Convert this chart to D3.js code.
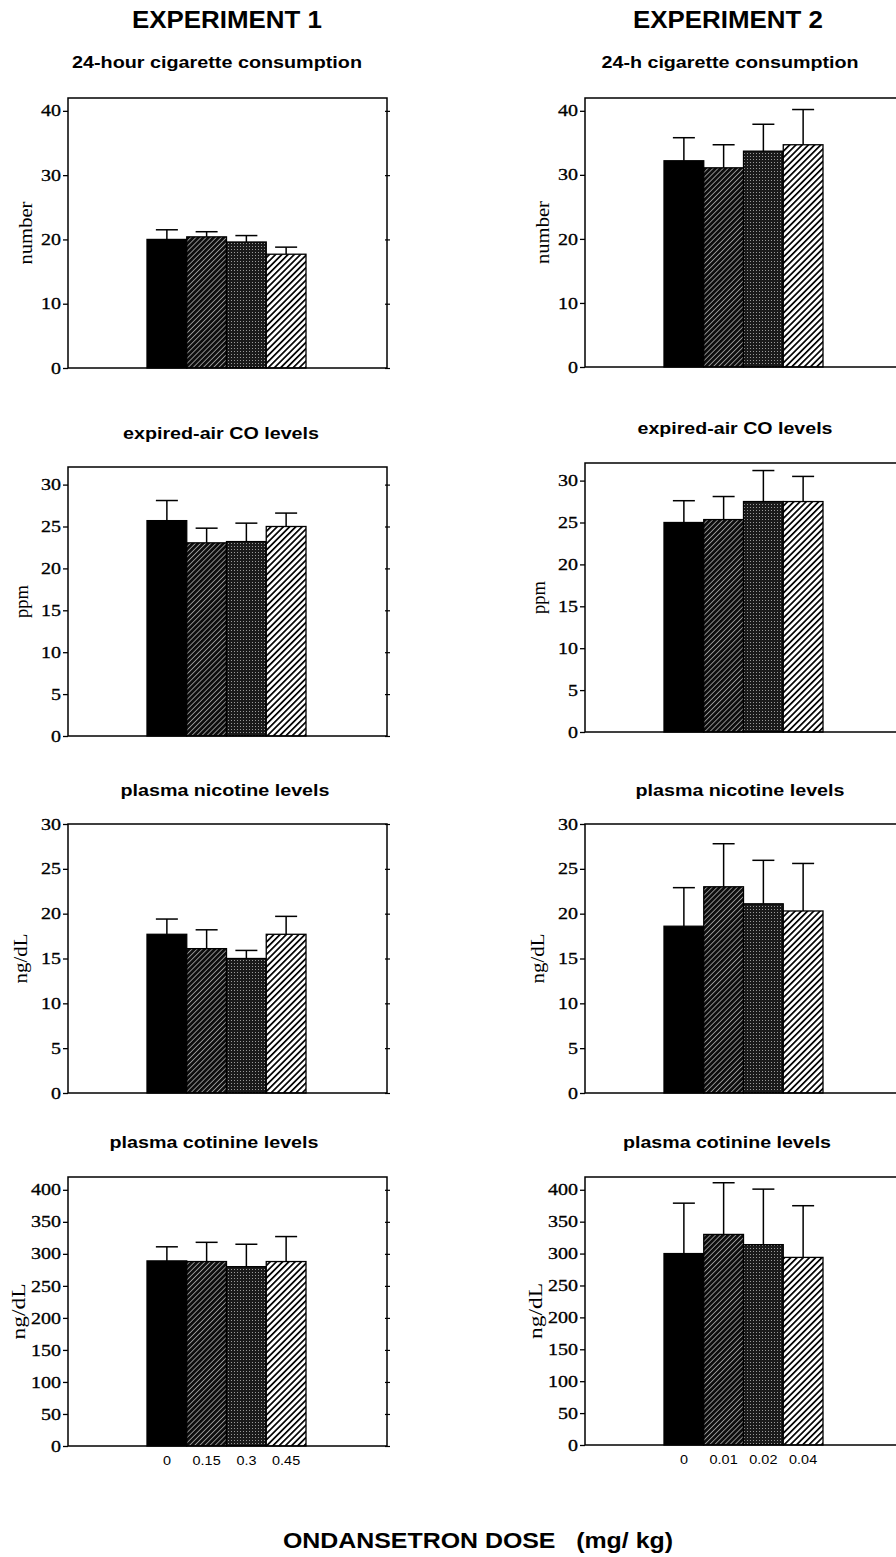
<!DOCTYPE html>
<html lang="en">
<head>
<meta charset="UTF-8">
<title>Ondansetron dose</title>
<script src="https://d3js.org/d3.v7.min.js"></script>
<style>
    body { margin: 0; background: #fff; }
    svg { display: block; }
    .serif { font-family: "Liberation Serif", "Times New Roman", serif; }
    .sans { font-family: "Liberation Sans", Arial, sans-serif; font-weight: bold; }
</style>
</head>
<body>
<svg id="chart" width="896" height="1557"></svg>
<script>
// doses (x categories)
const doses1 = ["0", "0.15", "0.3", "0.45"];
const doses2 = ["0", "0.01", "0.02", "0.04"];

// panel titles
const titles1 = ["24-hour cigarette consumption", "expired-air CO levels", "plasma nicotine levels", "plasma cotinine levels"];
const titles2 = ["24-h cigarette consumption", "expired-air CO levels", "plasma nicotine levels", "plasma cotinine levels"];
const yLabels = ["number", "ppm", "ng/dL", "ng/dL"];

// y ticks and y axis tops
const yTicks = [
    [0, 10, 20, 30, 40],
    [0, 5, 10, 15, 20, 25, 30],
    [0, 5, 10, 15, 20, 25, 30],
    [0, 50, 100, 150, 200, 250, 300, 350, 400]
];
const yTops = [42, 32.1, 30, 420];

// experiment 1: means and SEM
const exp1Cig = [20.0, 20.4, 19.6, 17.7];
const exp1CigErr = [1.5, 0.8, 1.0, 1.1];
const exp1CO = [25.7, 23.05, 23.2, 25.0];
const exp1COErr = [2.4, 1.75, 2.2, 1.6];
const exp1Nic = [17.7, 16.1, 15.0, 17.7];
const exp1NicErr = [1.7, 2.1, 0.9, 2.0];
const exp1Cot = [289, 288, 280, 288];
const exp1CotErr = [22, 30, 35, 39];

// experiment 2: means and SEM
const exp2Cig = [32.2, 31.1, 33.7, 34.7];
const exp2CigErr = [3.6, 3.6, 4.2, 5.5];
const exp2CO = [25.0, 25.35, 27.5, 27.5];
const exp2COErr = [2.6, 2.75, 3.7, 3.0];
const exp2Nic = [18.6, 23.0, 21.1, 20.3];
const exp2NicErr = [4.3, 4.8, 4.85, 5.3];
const exp2Cot = [300, 330, 314, 294];
const exp2CotErr = [79, 81, 87, 81];

const svg = d3.select("#chart");

// fill patterns for the 4 doses
const defs = svg.append("defs");
const hatchDark = defs.append("pattern").attr("id", "hatchDark")
    .attr("patternUnits", "userSpaceOnUse").attr("width", 3.6).attr("height", 3.6)
    .attr("patternTransform", "rotate(45)");
hatchDark.append("rect").attr("width", 3.6).attr("height", 3.6).attr("fill", "#0d0d0d");
hatchDark.append("rect").attr("x", 0).attr("width", 0.8).attr("height", 3.6).attr("fill", "#aaa");

const stipple = defs.append("pattern").attr("id", "stipple")
    .attr("patternUnits", "userSpaceOnUse").attr("width", 3).attr("height", 3);
stipple.append("rect").attr("width", 3).attr("height", 3).attr("fill", "#1a1a1a");
stipple.append("rect").attr("x", 0).attr("y", 0).attr("width", 1).attr("height", 1).attr("fill", "#999");

const hatchLight = defs.append("pattern").attr("id", "hatchLight")
    .attr("patternUnits", "userSpaceOnUse").attr("width", 4.4).attr("height", 4.4)
    .attr("patternTransform", "rotate(45)");
hatchLight.append("rect").attr("width", 4.4).attr("height", 4.4).attr("fill", "#fff");
hatchLight.append("rect").attr("width", 1.7).attr("height", 4.4).attr("fill", "#000");

const fills = ["#000", "url(#hatchDark)", "url(#stipple)", "url(#hatchLight)"];

// y label placement per row: distance left of the frame, text length
const labelOffset = [36, 40, 41, 43];
const labelLength = [63, 33, 50, 56];

// panel frames and title placement
const frameWidth = 319;
const columns = [
    {
        left: 68, doses: doses1, titles: titles1,
        means: [exp1Cig, exp1CO, exp1Nic, exp1Cot],
        errs: [exp1CigErr, exp1COErr, exp1NicErr, exp1CotErr],
        head: "EXPERIMENT 1", headX: 227,
        rows: [
            { top: 98, bottom: 368, tx: 217, ty: 68, tw: 290 },
            { top: 467, bottom: 736, tx: 221, ty: 439, tw: 196 },
            { top: 824, bottom: 1093, tx: 225, ty: 796, tw: 209 },
            { top: 1177, bottom: 1446, tx: 214, ty: 1148, tw: 209 }
        ]
    },
    {
        left: 585, doses: doses2, titles: titles2,
        means: [exp2Cig, exp2CO, exp2Nic, exp2Cot],
        errs: [exp2CigErr, exp2COErr, exp2NicErr, exp2CotErr],
        head: "EXPERIMENT 2", headX: 728,
        rows: [
            { top: 98, bottom: 367, tx: 730, ty: 68, tw: 257 },
            { top: 463, bottom: 732, tx: 735, ty: 434, tw: 195 },
            { top: 824, bottom: 1093, tx: 740, ty: 796, tw: 209 },
            { top: 1177, bottom: 1445, tx: 727, ty: 1148, tw: 208 }
        ]
    }
];

// widen a text to match the wide type of the original
function stretch(sel, k) {
    sel.each(function () {
        const w = this.getComputedTextLength();
        d3.select(this).attr("textLength", w * k).attr("lengthAdjust", "spacingAndGlyphs");
    });
}

columns.forEach(col => {
    svg.append("text")
        .attr("class", "sans")
        .attr("x", col.headX).attr("y", 28)
        .attr("text-anchor", "middle")
        .style("font-size", "24px")
        .attr("textLength", 190).attr("lengthAdjust", "spacingAndGlyphs")
        .text(col.head);

    col.rows.forEach((r, ri) => {
        const g = svg.append("g");
        const right = col.left + frameWidth;

        const x = d3.scaleBand()
            .domain(col.doses)
            .range([col.left + 79, col.left + 238])
            .paddingInner(0);

        const y = d3.scaleLinear()
            .domain([0, yTops[ri]])
            .range([r.bottom, r.top]);

        const rows = col.doses.map((d, i) => ({ dose: d, mean: col.means[ri][i], err: col.errs[ri][i], i: i }));

        // subtitle
        g.append("text")
            .attr("class", "sans")
            .attr("x", r.tx).attr("y", r.ty)
            .attr("text-anchor", "middle")
            .style("font-size", "16px")
            .attr("textLength", r.tw).attr("lengthAdjust", "spacingAndGlyphs")
            .text(col.titles[ri]);

        // error bars (drawn first, bars cover the lower half)
        const eb = g.append("g").attr("stroke", "#000").attr("stroke-width", 1.5);
        eb.selectAll(".stem")
            .data(rows)
            .enter().append("line")
            .attr("x1", d => x(d.dose) + x.bandwidth() / 2)
            .attr("x2", d => x(d.dose) + x.bandwidth() / 2)
            .attr("y1", d => y(d.mean))
            .attr("y2", d => y(d.mean + d.err));
        eb.selectAll(".cap")
            .data(rows)
            .enter().append("line")
            .attr("x1", d => x(d.dose) + x.bandwidth() / 2 - 11)
            .attr("x2", d => x(d.dose) + x.bandwidth() / 2 + 11)
            .attr("y1", d => y(d.mean + d.err))
            .attr("y2", d => y(d.mean + d.err));

        // bars
        g.selectAll(".bar")
            .data(rows)
            .enter().append("rect")
            .attr("x", d => x(d.dose))
            .attr("y", d => y(d.mean))
            .attr("width", x.bandwidth())
            .attr("height", d => y(0) - y(d.mean))
            .attr("fill", d => fills[d.i])
            .attr("stroke", "#000")
            .attr("stroke-width", 1.3);

        // frame
        g.append("rect")
            .attr("x", col.left).attr("y", r.top)
            .attr("width", frameWidth).attr("height", r.bottom - r.top)
            .attr("fill", "none")
            .attr("stroke", "#000")
            .attr("stroke-width", 1.5);

        // left axis
        const yAxis = g.append("g")
            .attr("transform", "translate(" + col.left + ",0)")
            .call(d3.axisLeft(y).tickValues(yTicks[ri]).tickSize(5).tickSizeOuter(0).tickPadding(2));
        yAxis.select(".domain").remove();
        yAxis.selectAll("line").attr("stroke-width", 1.3);
        yAxis.selectAll("text")
            .attr("class", "serif")
            .attr("fill", "#000")
            .attr("stroke", "#000")
            .attr("stroke-width", 0.3)
            .style("font-size", "16px");
        stretch(yAxis.selectAll("text"), 1.25);

        // right ticks
        const yRight = g.append("g")
            .attr("transform", "translate(" + (right - 2) + ",0)")
            .call(d3.axisRight(y).tickValues(yTicks[ri]).tickSize(5).tickSizeOuter(0).tickFormat(""));
        yRight.select(".domain").remove();
        yRight.selectAll("line").attr("stroke-width", 1.2);

        // y label
        const ly = (r.top + r.bottom) / 2;
        const lx = col.left - labelOffset[ri];
        g.append("text")
            .attr("class", "serif")
            .attr("x", lx).attr("y", ly)
            .attr("transform", "rotate(-90," + lx + "," + ly + ")")
            .attr("text-anchor", "middle")
            .style("font-size", "19px")
            .attr("textLength", labelLength[ri]).attr("lengthAdjust", "spacingAndGlyphs")
            .text(yLabels[ri]);

        // dose labels under the last row
        if (ri === col.rows.length - 1) {
            const xAxis = g.append("g")
                .attr("transform", "translate(0," + r.bottom + ")")
                .call(d3.axisBottom(x).tickSize(0).tickPadding(10));
            xAxis.select(".domain").remove();
            xAxis.selectAll("text")
                .attr("class", "sans")
                .attr("fill", "#000")
                .style("font-weight", "normal")
                .style("font-size", "12px");
            stretch(xAxis.selectAll("text"), 1.2);
        }
    });
});

svg.append("text")
    .attr("class", "sans")
    .attr("x", 478).attr("y", 1548)
    .attr("text-anchor", "middle")
    .style("font-size", "22px")
    .style("white-space", "pre")
    .attr("textLength", 390).attr("lengthAdjust", "spacingAndGlyphs")
    .text("ONDANSETRON DOSE   (mg/ kg)");
</script>
</body>
</html>
